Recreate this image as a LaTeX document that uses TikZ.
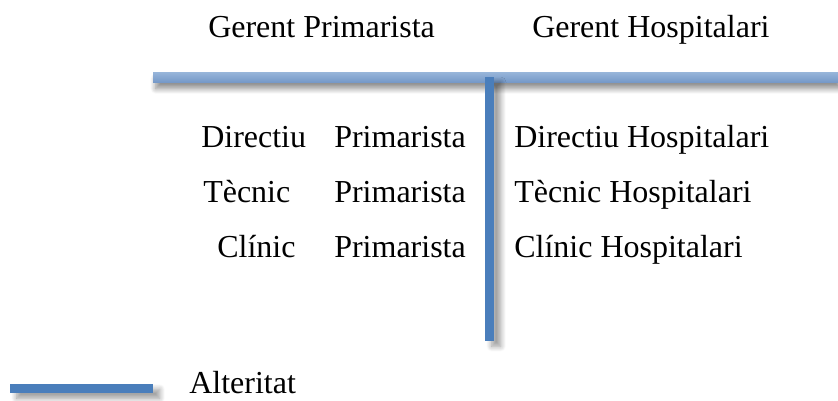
\documentclass[tikz,border=0pt]{standalone}
\usepackage{fontspec}
\setmainfont{Liberation Serif}
\usetikzlibrary{shadows.blur}
\definecolor{barlight}{RGB}{152,182,218}
\definecolor{bardark}{RGB}{118,153,200}
\definecolor{barblue}{RGB}{74,126,187}
\tikzset{
  lbl/.style={anchor=base west, inner sep=0pt, font=\fontsize{24}{28}\selectfont},
  hbar/.style={top color=barlight, bottom color=bardark, draw=none,
    blur shadow={shadow xshift=2pt, shadow yshift=-5pt, shadow blur radius=4pt, shadow blur steps=10, shadow opacity=45}},
  vbar/.style={fill=barblue, draw=none,
    blur shadow={shadow xshift=5pt, shadow yshift=-4pt, shadow blur radius=4pt, shadow blur steps=10, shadow opacity=40}}
}
\begin{document}
\begin{tikzpicture}[x=0.75pt,y=-0.75pt]
\useasboundingbox (0,0) rectangle (838,400);
% bars
\path[hbar] (153,72) rectangle (838,82);
\path[vbar] (485,77) rectangle (494,341);
\path[vbar] (10,384) rectangle (153,393);
% headers
\node[lbl] (gp) at (208,37) {Gerent Primarista};
\node[lbl] (gh) at (532,37) {Gerent Hospitalari};
% left column
\node[lbl] (d1) at (201,147) {Directiu};
\node[lbl] (t1) at (203,202) {Tècnic};
\node[lbl] (c1) at (217,257) {Clínic};
\node[lbl] (d2) at (334,147) {Primarista};
\node[lbl] (t2) at (334,202) {Primarista};
\node[lbl] (c2) at (334,257) {Primarista};
% right column
\node[lbl] (dh) at (514,147) {Directiu Hospitalari};
\node[lbl] (th) at (514,202) {Tècnic Hospitalari};
\node[lbl] (ch) at (514,257) {Clínic Hospitalari};
% legend
\node[lbl] (alt) at (189,393) {Alteritat};
\end{tikzpicture}
\end{document}
